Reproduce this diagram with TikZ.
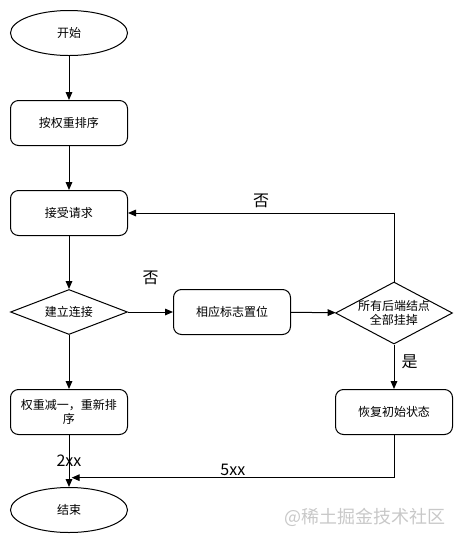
\documentclass[tikz,border=0pt]{standalone}
\usepackage{fontspec}
\setmainfont{Noto Sans CJK SC}
\usetikzlibrary{positioning, arrows.meta, shapes.geometric}
\definecolor{wmText}{HTML}{C8C8C8}

\begin{document}
\begin{tikzpicture}[
  x=0.75pt, y=-0.75pt,
  font=\small,
  line width=0.75pt,
  term/.style={ellipse, draw, inner sep=0pt, minimum width=87.75pt, minimum height=33.75pt},
  proc/.style={rectangle, rounded corners=6pt, draw, align=center, inner sep=2pt,
               minimum width=87.75pt, minimum height=33.75pt},
  dec/.style={diamond, draw, aspect=2.6, inner sep=0pt, align=center,
              minimum width=87.75pt, minimum height=33.75pt},
  arr/.style={-{Triangle[length=6pt,width=5pt]}, line width=0.75pt},
  lbl/.style={font=\large},
]
\useasboundingbox (0,0) rectangle (463,544);

% ---- Left column ----
\node[term] (start) at (69,33)  {开始};
\node[proc] (sort)  at (69,123) {按权重排序};
\node[proc] (acc)   at (69,213) {接受请求};
\node[dec]  (conn)  at (69,312) {建立连接};
\node[proc] (dec1)  at (69,412) {权重减一，重新排\\序};
\node[term] (stop)  at (69,510) {结束};

% ---- Failure branch ----
\node[proc] (flag) at (232,312) {相应标志置位};
\node[dec, minimum height=46.5pt,
      label={[align=center]center:{所有后端结点\\全部挂掉}}] (down) at (394,313) {};
\node[proc] (rst)  at (394,412) {恢复初始状态};

% ---- Main-column arrows ----
\draw[arr] (start) -- (sort);
\draw[arr] (sort)  -- (acc);
\draw[arr] (acc)   -- (conn);
\draw[arr] (conn)  -- (dec1);
\draw[arr] (dec1)  -- node[lbl] {2xx} (stop);

% ---- Failure-branch arrows ----
\draw[arr] (conn) -- node[lbl, above=17pt] {否} (flag);
\draw[arr] (flag) -- (down);
\draw[arr] (down.north) |- node[lbl, pos=0.75, above=0pt] {否} (acc.east);
\draw[arr] (down) -- node[lbl, right=2pt, yshift=4pt] {是} (rst);
\draw[arr] (rst.south) |- node[lbl, pos=0.75, above=-2pt] {5xx} ([xshift=2pt,yshift=7pt]stop.north);

% ---- Watermark ----
\node[font=\fontsize{13.5}{16}\selectfont, text=wmText] (wm) at (365,517) {@稀土掘金技术社区};

\end{tikzpicture}
\end{document}
